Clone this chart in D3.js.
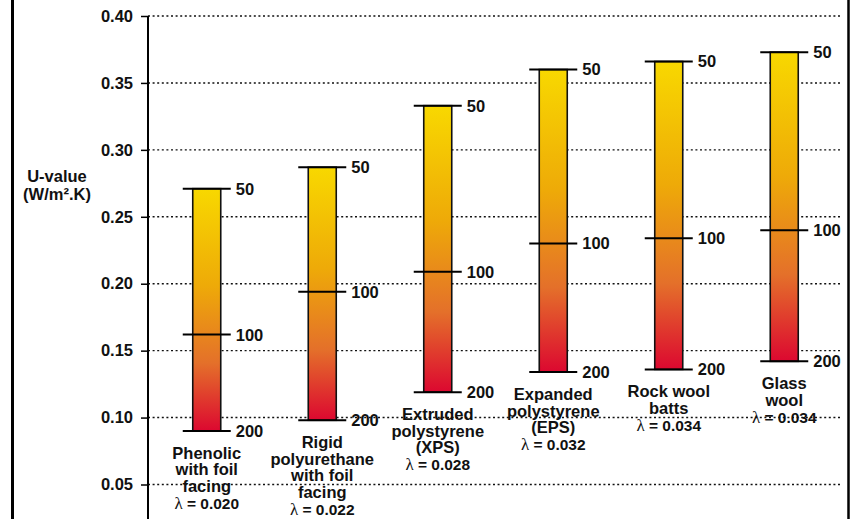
<!DOCTYPE html>
<html>
<head>
<meta charset="utf-8">
<script src="https://cdn.jsdelivr.net/npm/d3@7"></script>
<style>
body { margin: 0; background: #fff; }
text { font-family: "Liberation Sans", Arial, sans-serif; font-weight: bold; fill: #111; }
</style>
</head>
<body>
<svg id="chart" width="853" height="519"></svg>
<script>
// insulation materials (labels split on lines as in the picture)
var materials = ["Phenolic", "Rigid PUR", "XPS", "EPS", "Rock wool", "Glass wool"];
var nameLines = [
  ["Phenolic", "with foil", "facing"],
  ["Rigid", "polyurethane", "with foil", "facing"],
  ["Extruded", "polystyrene", "(XPS)"],
  ["Expanded", "polystyrene", "(EPS)"],
  ["Rock wool", "batts"],
  ["Glass", "wool"]
];
var lambdas = ["0.020", "0.022", "0.028", "0.032", "0.034", "0.034"];
// U-values at 50, 100 and 200 mm thickness
var u50  = [0.271, 0.287, 0.333, 0.360, 0.366, 0.373];
var u100 = [0.162, 0.194, 0.209, 0.230, 0.234, 0.240];
var u200 = [0.090, 0.098, 0.119, 0.134, 0.136, 0.142];
var thickLabels = ["50", "100", "200"];
var yTicks = [0.05, 0.10, 0.15, 0.20, 0.25, 0.30, 0.35, 0.40];

var svg = d3.select("#chart");

var x = d3.scalePoint().domain(materials).range([149, 842]).padding(0.5);
var y = d3.scaleLinear().domain([0.05, 0.40]).range([484.5, 16]);
var barW = 28;

// frame
svg.append("line").attr("x1", 12.5).attr("x2", 12.5).attr("y1", 0).attr("y2", 519)
  .attr("stroke", "#000").attr("stroke-width", 3);
svg.append("line").attr("x1", 848.5).attr("x2", 848.5).attr("y1", 0).attr("y2", 519)
  .attr("stroke", "#000").attr("stroke-width", 2.5);

// axis title
var yt = svg.append("text").attr("text-anchor", "middle").style("font-size", "16.5px");
yt.append("tspan").attr("x", 57).attr("y", 182).text("U-value");
yt.append("tspan").attr("x", 57).attr("y", 200).text("(W/m².K)");

// category labels
materials.forEach(function(m, i) {
  var cx = x(m);
  var y0 = y(u200[i]) + 28;
  var t = svg.append("text").attr("text-anchor", "middle").style("font-size", "16.5px");
  nameLines[i].forEach(function(s, j) {
    t.append("tspan").attr("x", cx).attr("y", y0 + j * 16.5).text(s);
  });
  var lt = svg.append("text").attr("text-anchor", "middle").style("font-size", "15.5px")
    .attr("x", cx).attr("y", y0 + (nameLines[i].length - 1) * 16.5 + 17);
  lt.append("tspan").style("font-family", "'Liberation Serif', 'Times New Roman', serif")
    .style("font-weight", "normal").style("font-size", "17px").text("λ");
  lt.append("tspan").text(" = " + lambdas[i]);
});

// gridlines
svg.append("g").selectAll("line").data(yTicks).enter().append("line")
  .attr("x1", 148).attr("x2", 842)
  .attr("y1", function(d) { return y(d); }).attr("y2", function(d) { return y(d); })
  .attr("stroke", "#111").attr("stroke-width", 1.4).attr("stroke-dasharray", "2,2.6");

// y axis
var yAxis = svg.append("g").attr("transform", "translate(148,0)")
  .call(d3.axisLeft(y).tickValues(yTicks).tickFormat(d3.format(".2f")).tickSize(7).tickPadding(8));
yAxis.select(".domain").remove();
yAxis.selectAll(".tick line").attr("stroke", "#000").attr("stroke-width", 1.5);
yAxis.selectAll(".tick text").style("font-size", "16.5px").style("font-family", "'Liberation Sans', Arial, sans-serif").attr("fill", "#111");
svg.append("line").attr("x1", 148).attr("x2", 148).attr("y1", y(0.40)).attr("y2", 519)
  .attr("stroke", "#000").attr("stroke-width", 2);

// gradient for the bars
var grad = svg.append("defs").append("linearGradient").attr("id", "barGrad")
  .attr("x1", 0).attr("x2", 0).attr("y1", 0).attr("y2", 1);
grad.append("stop").attr("offset", "0%").attr("stop-color", "#f8d800");
grad.append("stop").attr("offset", "40%").attr("stop-color", "#eeaa08");
grad.append("stop").attr("offset", "72%").attr("stop-color", "#e4702a");
grad.append("stop").attr("offset", "100%").attr("stop-color", "#dc0830");

// bars
svg.append("g").selectAll("rect").data(materials).enter().append("rect")
  .attr("x", function(d) { return x(d) - barW / 2; })
  .attr("y", function(d, i) { return y(u50[i]); })
  .attr("width", barW)
  .attr("height", function(d, i) { return y(u200[i]) - y(u50[i]); })
  .attr("fill", "url(#barGrad)")
  .attr("stroke", "#111").attr("stroke-width", 1.6);

// thickness markers
[u50, u100, u200].forEach(function(arr, k) {
  var g = svg.append("g");
  g.selectAll("line").data(materials).enter().append("line")
    .attr("x1", function(d) { return x(d) - 24; })
    .attr("x2", function(d) { return x(d) + 24; })
    .attr("y1", function(d, i) { return y(arr[i]); })
    .attr("y2", function(d, i) { return y(arr[i]); })
    .attr("stroke", "#000").attr("stroke-width", 2);
  g.selectAll("text").data(materials).enter().append("text")
    .attr("x", function(d) { return x(d) + 29; })
    .attr("y", function(d, i) { return y(arr[i]); })
    .attr("dy", "0.36em")
    .style("font-size", "16.5px")
    .text(thickLabels[k]);
});
</script>
</body>
</html>
